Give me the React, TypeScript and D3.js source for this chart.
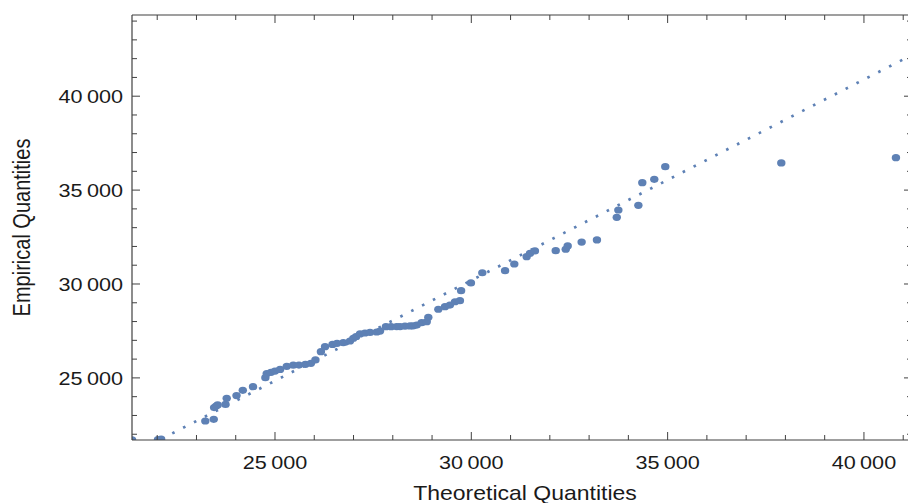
import React from "react";
import * as d3 from "d3";

// Sorted sample quantiles plotted against the matching theoretical quantiles
const theoreticalQuantiles = [
  21360, 22020, 22100, 23225, 23440, 23450, 23500, 23540, 23740, 23770,
  24020, 24180, 24440, 24755, 24790, 24898, 25000, 25130, 25300, 25465,
  25610, 25775, 25915, 26030, 26170, 26275, 26465, 26580, 26740, 26910,
  26995, 27065, 27165, 27292, 27420, 27590, 27675, 27825, 27955, 28100,
  28185, 28311, 28440, 28515, 28610, 28735, 28865, 28905, 29160, 29330,
  29455, 29585, 29710, 29740, 29990, 30280, 30860, 31095, 31410, 31495,
  31620, 32150, 32405, 32455, 32810, 33200, 33705, 33745, 34255, 34355,
  34660, 34940, 37895, 40815,
];
const empiricalQuantiles = [
  21700, 21720, 21745, 22705, 22795, 23420, 23500, 23560, 23590, 23915,
  24060, 24340, 24530, 25010, 25235, 25298, 25365, 25450, 25615, 25675,
  25685, 25725, 25775, 25955, 26395, 26660, 26780, 26840, 26875, 26965,
  27110, 27205, 27340, 27391, 27420, 27445, 27495, 27725, 27726, 27728,
  27735, 27753, 27765, 27768, 27815, 27940, 27990, 28225, 28655, 28790,
  28880, 29055, 29110, 29645, 30055, 30600, 30710, 31065, 31455, 31635,
  31760, 31775, 31850, 32025, 32235, 32345, 33550, 33940, 34190, 35395,
  35575, 36245, 36445, 36725,
];

// Reference line endpoints (theoretical, empirical)
const referenceLineX = [21000, 42000];
const referenceLineY = [20566, 43028];

const xMajorTicks = [25000, 30000, 35000, 40000];
const yMajorTicks = [25000, 30000, 35000, 40000];
const xMinorTicks = d3.range(22000, 41001, 1000).filter((v) => v % 5000 !== 0);
const yMinorTicks = d3.range(22000, 44001, 1000).filter((v) => v % 5000 !== 0);

const xTitle = "Theoretical Quantities";
const yTitle = "Empirical Quantities";

const W = 908;
const H = 503;
const left = 132;
const right = 912;
const top = 15;
const bottom = 440;

const markColor = "#5E81B5";
const frameColor = "#404040";
const textColor = "#1a1a1a";
const font = "'Liberation Sans', Arial, Helvetica, sans-serif";
const stretch = 1.15;

const fmt = d3.formatLocale({
  decimal: ".",
  thousands: "\u2009",
  grouping: [3],
  currency: ["", ""],
}).format(",");

export default function App() {
  const x = d3.scaleLinear().domain([21358, 41224]).range([left, right]);
  const y = d3.scaleLinear().domain([21693, 44324]).range([bottom, top]);

  const points = theoreticalQuantiles.map((t, i) => ({ t, e: empiricalQuantiles[i] }));
  const refLine = d3
    .line<number>()
    .x((d) => x(referenceLineX[d]))
    .y((d) => y(referenceLineY[d]))([0, 1]) as string;

  const majorLen = 8;
  const minorLen = 5;

  return (
    <svg
      width={W}
      height={H}
      viewBox={`0 0 ${W} ${H}`}
      style={{ position: "absolute", left: 0, top: 0, background: "#fff" }}
    >
      <defs>
        <clipPath id="plotArea">
          <rect x={left} y={top} width={right - left} height={bottom - top} />
        </clipPath>
      </defs>
      <rect x={0} y={0} width={W} height={H} fill="#fff" />

      <g clipPath="url(#plotArea)">
        <path
          d={refLine}
          fill="none"
          stroke={markColor}
          strokeWidth={2.7}
          strokeDasharray="2.6 9.6"
        />
        {points.map((p, i) => (
          <ellipse
            key={i}
            cx={x(p.t)}
            cy={y(p.e)}
            rx={4.2}
            ry={3.6}
            fill={markColor}
          />
        ))}
      </g>

      {/* frame */}
      <g stroke={frameColor} strokeWidth={1.2} fill="none">
        <line x1={left} y1={top} x2={right} y2={top} />
        <line x1={left} y1={bottom} x2={right} y2={bottom} />
        <line x1={left} y1={top} x2={left} y2={bottom} />
        <line x1={right} y1={top} x2={right} y2={bottom} />
      </g>

      {/* ticks */}
      <g stroke={frameColor} strokeWidth={1}>
        {xMajorTicks.map((v) => (
          <g key={`xm${v}`}>
            <line x1={x(v)} x2={x(v)} y1={bottom} y2={bottom - majorLen} />
            <line x1={x(v)} x2={x(v)} y1={top} y2={top + majorLen} />
          </g>
        ))}
        {xMinorTicks.map((v) => (
          <g key={`xn${v}`}>
            <line x1={x(v)} x2={x(v)} y1={bottom} y2={bottom - minorLen} />
            <line x1={x(v)} x2={x(v)} y1={top} y2={top + minorLen} />
          </g>
        ))}
        {yMajorTicks.map((v) => (
          <g key={`ym${v}`}>
            <line x1={left} x2={left + majorLen} y1={y(v)} y2={y(v)} />
            <line x1={right} x2={right - majorLen} y1={y(v)} y2={y(v)} />
          </g>
        ))}
        {yMinorTicks.map((v) => (
          <g key={`yn${v}`}>
            <line x1={left} x2={left + minorLen} y1={y(v)} y2={y(v)} />
            <line x1={right} x2={right - minorLen} y1={y(v)} y2={y(v)} />
          </g>
        ))}
      </g>

      {/* tick labels */}
      <g fontFamily={font} fontSize={18.8} fill={textColor}>
        {xMajorTicks.map((v) => (
          <text
            key={`xl${v}`}
            transform={`translate(${x(v)},468.5) scale(${stretch},1)`}
            textAnchor="middle"
          >
            {fmt(v)}
          </text>
        ))}
        {yMajorTicks.map((v) => (
          <text
            key={`yl${v}`}
            transform={`translate(123,${y(v)}) scale(${stretch},1)`}
            textAnchor="end"
            dy="0.36em"
          >
            {fmt(v)}
          </text>
        ))}
      </g>

      {/* axis titles */}
      <g fontFamily={font} fontSize={20} fill={textColor}>
        <text
          transform={`translate(525,500) scale(${stretch},1)`}
          textAnchor="middle"
        >
          {xTitle}
        </text>
        <text
          transform={`translate(29.5,${(top + bottom) / 2}) scale(${stretch},1) rotate(-90)`}
          textAnchor="middle"
        >
          {yTitle}
        </text>
      </g>
    </svg>
  );
}
